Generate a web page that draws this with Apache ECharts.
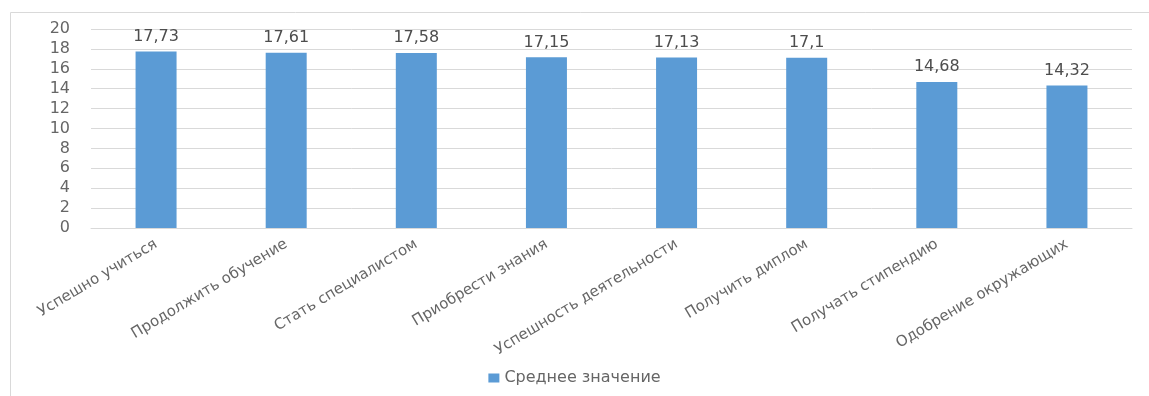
<!DOCTYPE html>
<html>
<head>
<meta charset="utf-8">
<script src="https://cdn.jsdelivr.net/npm/echarts@6/dist/echarts.min.js"></script>
<style>
  html, body { margin: 0; padding: 0; background: #fff; }
  #chart { width: 1149px; height: 396px; }
</style>
</head>
<body>
<div id="chart"></div>
<script>
// категории и значения
const categories = [
  'Успешно учиться', 'Продолжить обучение', 'Стать специалистом', 'Приобрести знания',
  'Успешность деятельности', 'Получить диплом', 'Получать стипендию', 'Одобрение окружающих'
]
const seriesName = 'Среднее значение'
const values = [17.73, 17.61, 17.58, 17.15, 17.13, 17.1, 14.68, 14.32]
const yTicks = [0, 2, 4, 6, 8, 10, 12, 14, 16, 18, 20]

const myChart = echarts.init(document.getElementById('chart'))
myChart.setOption({
  animation: false,
  textStyle: { fontFamily: 'DejaVu Sans' },
  graphic: [{
    type: 'rect',
    shape: { x: 10.5, y: 12.5, width: 1160, height: 400 },
    style: { fill: 'none', stroke: '#d9d9d9', lineWidth: 1 }
  }],
  legend: {
    bottom: 5,
    left: 'center',
    itemWidth: 11,
    itemHeight: 9,
    itemGap: 8,
    icon: 'rect',
    textStyle: { color: '#666666', fontSize: 16 },
    data: [seriesName]
  },
  grid: { left: 91, right: 17, top: 29, bottom: 168, containLabel: false },
  xAxis: {
    type: 'category',
    data: categories,
    axisTick: { show: false },
    axisLine: { lineStyle: { color: '#d9d9d9' } },
    axisLabel: { rotate: 31, color: '#666666', fontSize: 15, margin: 15, interval: 0 }
  },
  yAxis: {
    type: 'value',
    min: yTicks[0],
    max: yTicks[yTicks.length - 1],
    interval: 2,
    axisLine: { show: false },
    axisTick: { show: false },
    splitLine: { lineStyle: { color: '#d9d9d9', width: 1 } },
    axisLabel: { color: '#666666', fontSize: 16, margin: 21 }
  },
  series: [{
    name: seriesName,
    type: 'bar',
    data: values,
    barWidth: 41,
    itemStyle: { color: '#5b9bd5' },
    label: {
      show: true,
      position: 'top',
      distance: 7,
      color: '#4d4d4d',
      fontSize: 16,
      formatter: p => String(p.value).replace('.', ',')
    }
  }]
})
</script>
</body>
</html>
